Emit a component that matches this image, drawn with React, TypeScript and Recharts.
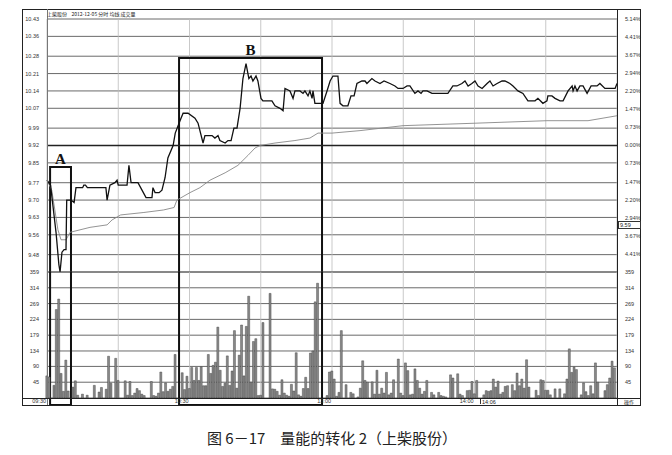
import { LineChart, Line, ComposedChart, Bar, XAxis, YAxis, CartesianGrid, ReferenceArea, ReferenceLine } from 'recharts'

// minute offsets from 09:30 (0..240), price
const priceTrace: [number, number][] = [
  [0, 9.78], [1.5, 9.76], [3.8, 9.57], [5, 9.44], [5.5, 9.41], [6.3, 9.49], [7.2, 9.5], [8, 9.5], [8.3, 9.7],
  [10.1, 9.7], [11.4, 9.69], [12.2, 9.75], [15, 9.75], [15.5, 9.76], [16.2, 9.76], [17, 9.75], [24.8, 9.75],
  [25.3, 9.7], [26.5, 9.76], [28.6, 9.77], [29.5, 9.78], [30, 9.76], [33.7, 9.76], [34.5, 9.84], [35.4, 9.77],
  [38.3, 9.77], [40, 9.74], [41.7, 9.71], [44.2, 9.71], [44.6, 9.75], [45.5, 9.73], [47.2, 9.73], [48.4, 9.74],
  [49.7, 9.79], [50.9, 9.87], [53.1, 9.92], [54, 9.97], [55.2, 10.0], [56, 10.02], [57.3, 10.05], [59.4, 10.05],
  [62.3, 10.03], [63.6, 10.01], [65.7, 9.93], [66.5, 9.96], [69.5, 9.96], [70.7, 9.95], [72, 9.96], [72.8, 9.94],
  [75, 9.93], [76.2, 9.94], [77.5, 9.94], [78.7, 9.99], [80, 9.99], [81.3, 10.07], [82.5, 10.19], [83.8, 10.25],
  [85, 10.19], [85.9, 10.2], [86.7, 10.18], [88, 10.2], [88.8, 10.18], [90.1, 10.11], [90.9, 10.1], [94.7, 10.1],
  [96, 10.08], [98.1, 10.07], [99.4, 10.06], [100.2, 10.15], [102.3, 10.14], [103.6, 10.11], [104.4, 10.14],
  [106.5, 10.14], [107.8, 10.13], [108.6, 10.14], [109.9, 10.12], [110.7, 10.14], [111.6, 10.11], [112, 10.14],
  [112.8, 10.09], [116.2, 10.09], [117.9, 10.14], [119.2, 10.18], [120.4, 10.2], [122.5, 10.2], [123.4, 10.09],
  [124.6, 10.08], [126.7, 10.08], [128, 10.12], [129.3, 10.12], [130.5, 10.17], [132.6, 10.18], [133.9, 10.18],
  [134.7, 10.17], [136.8, 10.19], [138.1, 10.18], [140.2, 10.17], [141.9, 10.18], [144.4, 10.17], [146.5, 10.16],
  [147.8, 10.15], [149.9, 10.15], [151.6, 10.16], [152.8, 10.16], [154.9, 10.13], [156.2, 10.14], [157.5, 10.13],
  [158.3, 10.14], [160, 10.14], [162.1, 10.13], [168.8, 10.13], [170.9, 10.16], [172.6, 10.16], [174.7, 10.17],
  [176, 10.18], [177.3, 10.16], [178.9, 10.17], [180.2, 10.18], [181.5, 10.16], [183.2, 10.15], [185.3, 10.17],
  [186.5, 10.18], [187.8, 10.16], [189.5, 10.17], [191.6, 10.18], [192.8, 10.18], [194.9, 10.17], [196.2, 10.16],
  [198.3, 10.14], [200.4, 10.13], [202.5, 10.1], [204.2, 10.1], [205.5, 10.1], [206.7, 10.11], [208.8, 10.09],
  [210.5, 10.1], [210.9, 10.12], [212.6, 10.12], [213.9, 10.11], [216, 10.1], [217.3, 10.1], [219.4, 10.14],
  [221.1, 10.16], [221.5, 10.14], [222.3, 10.16], [223.2, 10.14], [224.4, 10.16], [225.7, 10.16], [227.4, 10.13],
  [229.1, 10.16], [231.6, 10.16], [232.8, 10.17], [234.9, 10.15], [239.2, 10.15], [240, 10.17],
]

const avgTrace: [number, number][] = [
  [0, 9.78], [2, 9.74], [4.6, 9.58], [5.9, 9.54], [8, 9.54], [9.7, 9.57], [18.1, 9.59], [25.3, 9.6], [27.4, 9.62],
  [31, 9.64], [40.8, 9.65], [49, 9.66], [53.5, 9.67], [54.7, 9.7], [60.2, 9.73], [64.4, 9.75], [68.6, 9.78],
  [75, 9.81], [80.4, 9.84], [84.6, 9.88], [87.6, 9.91], [89.7, 9.92], [96, 9.93], [104.4, 9.94], [110.7, 9.95],
  [114.1, 9.97], [120, 9.97], [131.8, 9.98], [149.9, 10.0], [180.6, 10.01], [210.5, 10.02], [227.8, 10.02], [240, 10.04],
]

const volumes: [number, number][] = [
  [0, 63], [1, 60], [3, 36], [4, 252], [5, 282], [6, 70], [7, 19], [8, 108], [9, 20], [11, 31], [12, 49], [13, 8],
  [15, 11], [17, 8], [20, 36], [22, 17], [23, 30], [25, 25], [26, 119], [27, 42], [29, 113], [30, 50], [33, 49],
  [34, 8], [35, 47], [36, 7], [37, 14], [38, 27], [39, 21], [40, 11], [41, 7], [44, 47], [45, 7], [46, 5], [47, 14],
  [48, 74], [49, 18], [50, 43], [51, 19], [52, 25], [53, 33], [54, 124], [57, 72], [58, 24], [59, 62], [60, 27],
  [61, 87], [62, 50], [63, 87], [64, 50], [65, 89], [66, 35], [67, 35], [68, 124], [69, 70], [70, 93], [71, 102],
  [72, 202], [73, 79], [74, 33], [75, 42], [76, 120], [77, 36], [78, 77], [79, 192], [80, 28], [81, 122], [82, 208],
  [83, 63], [84, 204], [85, 290], [86, 45], [87, 161], [88, 169], [89, 7], [90, 8], [91, 215], [94, 298], [95, 26],
  [96, 25], [97, 19], [98, 8], [99, 52], [100, 14], [101, 8], [102, 5], [103, 39], [104, 20], [105, 129], [106, 9],
  [107, 5], [108, 27], [109, 59], [110, 27], [111, 128], [112, 134], [113, 274], [114, 327], [118, 7], [119, 74],
  [120, 77], [121, 54], [122, 5], [123, 16], [124, 192], [126, 38], [128, 16], [129, 12], [131, 3], [132, 28],
  [133, 106], [134, 50], [135, 45], [137, 46], [138, 11], [139, 79], [140, 11], [141, 28], [142, 14], [143, 73],
  [144, 9], [145, 14], [146, 52], [148, 111], [149, 14], [150, 7], [151, 100], [152, 78], [153, 9], [154, 11],
  [155, 83], [156, 50], [157, 28], [158, 11], [159, 19], [160, 50], [162, 16], [163, 9], [165, 16], [166, 7],
  [167, 5], [168, 3], [170, 66], [171, 57], [173, 69], [174, 11], [175, 7], [177, 21], [178, 22], [179, 47],
  [180, 12], [181, 50], [184, 9], [185, 21], [186, 19], [187, 21], [188, 54], [189, 31], [190, 48], [191, 11],
  [192, 16], [193, 33], [194, 35], [196, 38], [197, 21], [198, 71], [199, 35], [200, 54], [201, 28], [202, 109],
  [203, 31], [206, 22], [207, 7], [208, 52], [209, 50], [210, 22], [211, 22], [212, 9], [214, 26], [216, 26],
  [218, 12], [219, 54], [220, 140], [221, 73], [222, 88], [223, 81], [225, 9], [226, 43], [227, 18], [228, 7],
  [229, 35], [230, 12], [231, 100], [232, 45], [235, 21], [236, 38], [237, 57], [238, 105], [239, 86],
]

const prevClose = 9.92
const priceTicks = [10.43, 10.36, 10.28, 10.21, 10.14, 10.07, 9.99, 9.92, 9.85, 9.77, 9.7, 9.63, 9.56, 9.48]
const pctTicks = [5.14, 4.41, 3.67, 2.94, 2.2, 1.47, 0.73, 0, -0.73, -1.47, -2.2, -2.94, -3.67, -4.41]
const volTicks = [359, 314, 269, 224, 179, 134, 90, 45]
const timeTicks = [0, 30, 60, 90, 120, 150, 180, 210, 240]
const timeLabels = ['09:30', '', '10:30', '', '13:00', '', '14:00', '', '']

// annotation boxes: minute range and top price
const boxA = { label: 'A', from: 1.3, to: 10.1, top: 9.833 }
const boxB = { label: 'B', from: 55.6, to: 115.8, top: 10.273 }

const priceData = priceTrace.map(([m, p]) => ({ m, p, pct: (p / prevClose - 1) * 100 }))
const avgData = avgTrace.map(([m, p]) => ({ m, p }))
const volData = volumes.map(([m, v]) => ({ m, v }))

const tickStyle = { fontSize: 5.5, fill: '#333', fontFamily: 'Liberation Sans, Arial, sans-serif' }

function topBox(label: string) {
  return (props: any) => {
    const { x, y, width, height } = props
    return (
      <g>
        <path d={`M${x},${y + height} L${x},${y} L${x + width},${y} L${x + width},${y + height}`} fill="none" stroke="#111" strokeWidth={2} />
        <text x={x + width / 2} y={y - 3} textAnchor="middle" fontSize={15} fontWeight="bold" fontFamily="Liberation Serif, serif" fill="#111">{label}</text>
      </g>
    )
  }
}

function bottomBox(props: any) {
  const { x, y, width, height } = props
  return <path d={`M${x},${y} L${x},${y + height} L${x + width},${y + height} L${x + width},${y}`} fill="none" stroke="#111" strokeWidth={2} />
}

function TimeTick({ x, y, payload }: any) {
  const label = timeLabels[timeTicks.indexOf(payload.value)]
  if (!label) return null
  return <text x={x - 1} y={y + 5} textAnchor="end" {...tickStyle}>{label}</text>
}

export default function App() {
  return (
    <div style={{ position: 'absolute', left: 0, top: 0, width: 672, height: 455, background: '#fff', fontFamily: 'Liberation Sans, Arial, sans-serif' }}>
      <div style={{ position: 'absolute', left: 0, top: 0 }}>
        <LineChart width={672} height={300} margin={{ top: 19, right: 32, bottom: 28, left: 22 }}>
          <XAxis type="number" dataKey="m" domain={[0, 240]} ticks={timeTicks} hide />
          <YAxis yAxisId="p" type="number" domain={[9.41, 10.43]} ticks={priceTicks} allowDataOverflow width={25}
            tickLine={false} axisLine={false} tickMargin={2} tick={tickStyle} interval={0} tickFormatter={(v: number) => v.toFixed(2)} />
          <YAxis yAxisId="pct" orientation="right" type="number" domain={[-5.14, 5.14]} ticks={pctTicks} allowDataOverflow width={23}
            tickLine={false} axisLine={false} tickMargin={2} tick={tickStyle} interval={0}
            tickFormatter={(v: number) => Math.abs(v).toFixed(2) + '%'} />
          <CartesianGrid yAxisId="p" vertical={false} stroke="#444" strokeWidth={0.8} />
          <CartesianGrid yAxisId="p" horizontal={false} stroke="#bbb" strokeWidth={0.8} />
          <ReferenceLine yAxisId="p" y={prevClose} stroke="#222" strokeWidth={1.6} />
          <Line yAxisId="pct" data={priceData} dataKey="pct" type="linear" stroke="none" dot={false} isAnimationActive={false} />
          <Line yAxisId="p" data={avgData} dataKey="p" type="linear" stroke="#888" strokeWidth={0.9} dot={false} isAnimationActive={false} />
          <Line yAxisId="p" data={priceData} dataKey="p" type="linear" stroke="#111" strokeWidth={1.3} dot={false} isAnimationActive={false} />
          {[boxA, boxB].map((b) => (
            <ReferenceArea key={b.label} yAxisId="p" x1={b.from} x2={b.to} y1={9.41} y2={b.top} ifOverflow="visible" shape={topBox(b.label)} />
          ))}
        </LineChart>
      </div>
      <div style={{ position: 'absolute', left: 0, top: 262 }}>
        <ComposedChart data={volData} width={672} height={150} margin={{ top: 10, right: 32, bottom: 6, left: 22 }}>
          <XAxis type="number" dataKey="m" domain={[0, 240]} ticks={timeTicks} interval={0} height={8}
            tickLine={false} axisLine={false} tickSize={0} tickMargin={0} tick={<TimeTick />} />
          <YAxis yAxisId="v" type="number" domain={[0, 359]} ticks={volTicks} allowDataOverflow width={25}
            tickLine={false} axisLine={false} tickMargin={2} tick={tickStyle} interval={0} />
          <YAxis yAxisId="v2" orientation="right" type="number" domain={[0, 359]} ticks={volTicks} allowDataOverflow width={23}
            tickLine={false} axisLine={false} tickMargin={2} tick={tickStyle} interval={0} />
          <CartesianGrid yAxisId="v" vertical={false} stroke="#444" strokeWidth={0.8} />
          <CartesianGrid yAxisId="v" horizontal={false} stroke="#bbb" strokeWidth={0.8} />
          <Line yAxisId="v2" dataKey="v" stroke="none" dot={false} isAnimationActive={false} />
          <Bar yAxisId="v" dataKey="v" barSize={2} fill="#8a8a8a" stroke="#333" strokeWidth={0.4} isAnimationActive={false} />
          {[boxA, boxB].map((b) => (
            <ReferenceArea key={b.label} yAxisId="v" x1={b.from} x2={b.to} y1={-20} y2={359} ifOverflow="visible" shape={bottomBox} />
          ))}
        </ComposedChart>
      </div>
      {/* panel frame */}
      <div style={{ position: 'absolute', left: 22, top: 9, width: 617, height: 395, border: '1px solid #222', pointerEvents: 'none' }} />
      <div style={{ position: 'absolute', left: 47, top: 9, width: 0, height: 396, borderLeft: '1px solid #777' }} />
      <div style={{ position: 'absolute', left: 617, top: 9, width: 0, height: 396, borderLeft: '1px solid #222' }} />
      <div style={{ position: 'absolute', left: 22, top: 398, width: 618, height: 0, borderTop: '1px solid #222' }} />
      <div style={{ position: 'absolute', left: 47, top: 10, fontSize: 5, color: '#222', whiteSpace: 'nowrap', fontFamily: 'Noto Sans CJK SC, sans-serif' }}>
        上柴股份&nbsp;&nbsp;&nbsp;&nbsp;2012-12-05 分时 均线 成交量
      </div>
      <div style={{ position: 'absolute', left: 618, top: 221, width: 20, height: 6, border: '0.5px solid #333', fontSize: 5.5, lineHeight: '6px', paddingLeft: 1, color: '#222' }}>9.59</div>
      <div style={{ position: 'absolute', left: 480, top: 399, width: 13, height: 5, borderLeft: '1px solid #333', fontSize: 5.5, lineHeight: '6px', paddingLeft: 1, color: '#222' }}>14:06</div>
      <div style={{ position: 'absolute', left: 624, top: 399, width: 14, height: 5, fontSize: 5, lineHeight: '6px', color: '#222', fontFamily: 'Noto Sans CJK SC, sans-serif' }}>操作</div>
      <div style={{ position: 'absolute', left: 0, top: 427, width: 664, textAlign: 'center', fontSize: 15, color: '#222', fontFamily: 'Noto Sans CJK SC, sans-serif', whiteSpace: 'pre' }}>
        图 6－17　量能的转化 2（上柴股份）
      </div>
    </div>
  )
}
